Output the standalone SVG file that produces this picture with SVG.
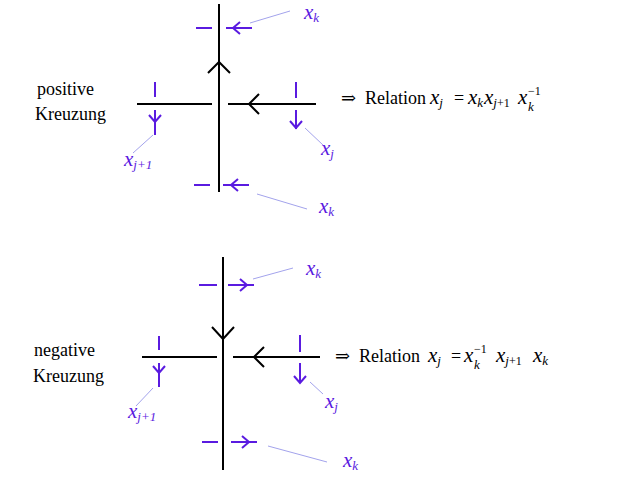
<svg xmlns="http://www.w3.org/2000/svg" width="639" height="486" viewBox="0 0 639 486">
<style>
.k{stroke:#000;stroke-width:2;fill:none}
.p{stroke:#5a1be0;stroke-width:2;fill:none}
.l{stroke:#a3a3ec;stroke-width:1;fill:none}
text{font-family:"Liberation Serif","DejaVu Serif","Times New Roman",serif}
.t{font-size:18px;fill:#000}
.m{font-style:italic;font-size:21px;fill:#5a1be0}
.mb{font-style:italic;font-size:21px;fill:#000}
.s{font-size:13px}
.u{font-style:normal;font-size:12px}
</style>
<rect width="639" height="486" fill="#fff"/>

<g id="positive-crossing">
  <line class="k" x1="219" y1="4" x2="219" y2="192"/>
  <polyline class="k" points="208,73 219,62 230,73"/>
  <line class="k" x1="137" y1="104" x2="212" y2="104"/>
  <line class="k" x1="228" y1="104" x2="316" y2="104"/>
  <polyline class="k" points="259,94 249,104 259,114"/>
</g>
<g id="positive-labels">
  <line class="p" x1="196" y1="28" x2="212" y2="28"/>
  <line class="p" x1="226" y1="28" x2="252" y2="28"/>
  <polyline class="p" points="240,22 233,28 240,34"/>
  <line class="p" x1="155" y1="82" x2="155" y2="97"/>
  <line class="p" x1="155" y1="110" x2="155" y2="135"/>
  <polyline class="p" points="149,115 155,122 161,115"/>
  <line class="p" x1="296" y1="82" x2="296" y2="98"/>
  <line class="p" x1="296" y1="110" x2="296" y2="129"/>
  <polyline class="p" points="290,121 296,128 302,121"/>
  <line class="p" x1="194" y1="185" x2="210" y2="185"/>
  <line class="p" x1="223" y1="185" x2="249" y2="185"/>
  <polyline class="p" points="238,179 231,185 238,191"/>
  <text class="m" x="304" y="19" font-size="20">x<tspan class="s" dy="3">k</tspan></text>
  <text class="m" x="124" y="166">x<tspan class="s" dy="3">j+1</tspan></text>
  <text class="m" x="321" y="155">x<tspan class="s" dy="3">j</tspan></text>
  <text class="m" x="319" y="213">x<tspan class="s" dy="3">k</tspan></text>
  <text class="t" x="37" y="95">positive</text>
  <text class="t" x="35" y="120">Kreuzung</text>
  <text class="t" x="341" y="104">⇒</text>
  <text class="t" x="365" y="104">Relation</text>
  <text class="mb" x="430" y="104">x<tspan class="s" dy="3">j</tspan></text>
  <text class="t" x="454" y="104">=</text>
  <text class="mb" x="468" y="104">x<tspan class="s" dy="3">k</tspan></text>
  <text class="mb" x="484" y="104">x<tspan class="s" dy="3">j</tspan><tspan class="u">+1</tspan></text>
  <text class="mb" x="518" y="104">x</text>
  <text class="u" x="528" y="95">−1</text>
  <text class="mb s" x="528" y="111">k</text>
</g>
<g id="negative-crossing">
  <line class="k" x1="223" y1="257" x2="223" y2="470"/>
  <polyline class="k" points="212,327 223,339 234,327"/>
  <line class="k" x1="142" y1="357" x2="217" y2="357"/>
  <line class="k" x1="233" y1="357" x2="320" y2="357"/>
  <polyline class="k" points="264,347 254,357 264,367"/>
</g>
<g id="negative-labels">
  <line class="p" x1="199" y1="285" x2="217" y2="285"/>
  <line class="p" x1="228" y1="285" x2="254" y2="285"/>
  <polyline class="p" points="240,279 247,285 240,291"/>
  <line class="p" x1="159" y1="336" x2="159" y2="350"/>
  <line class="p" x1="159" y1="363" x2="159" y2="387"/>
  <polyline class="p" points="153,366 159,373 165,366"/>
  <line class="p" x1="300" y1="335" x2="300" y2="352"/>
  <line class="p" x1="300" y1="363" x2="300" y2="383"/>
  <polyline class="p" points="294,376 300,383 306,376"/>
  <line class="p" x1="202" y1="442" x2="218" y2="442"/>
  <line class="p" x1="231" y1="442" x2="257" y2="442"/>
  <polyline class="p" points="242,436 249,442 242,448"/>
  <text class="m" x="306" y="275">x<tspan class="s" dy="3">k</tspan></text>
  <text class="m" x="128" y="418">x<tspan class="s" dy="3">j+1</tspan></text>
  <text class="m" x="325" y="408">x<tspan class="s" dy="3">j</tspan></text>
  <text class="m" x="343" y="467">x<tspan class="s" dy="3">k</tspan></text>
  <text class="t" x="34" y="356">negative</text>
  <text class="t" x="33" y="382">Kreuzung</text>
  <text class="t" x="335" y="362">⇒</text>
  <text class="t" x="359" y="362">Relation</text>
  <text class="mb" x="428" y="362">x<tspan class="s" dy="3">j</tspan></text>
  <text class="t" x="451" y="362">=</text>
  <text class="mb" x="464" y="362">x</text>
  <text class="u" x="474" y="353">−1</text>
  <text class="mb s" x="474" y="369">k</text>
  <text class="mb" x="496" y="362">x<tspan class="s" dy="3">j</tspan><tspan class="u">+1</tspan></text>
  <text class="mb" x="533" y="362">x<tspan class="s" dy="3">k</tspan></text>
</g>
<g id="connectors">
  <line class="l" x1="250" y1="23" x2="290" y2="11"/>
  <line class="l" x1="153" y1="135" x2="133" y2="153"/>
  <line class="l" x1="305" y1="128" x2="323" y2="145"/>
  <line class="l" x1="257" y1="194" x2="307" y2="209"/>
  <line class="l" x1="253" y1="279" x2="293" y2="268"/>
  <line class="l" x1="153" y1="388" x2="136" y2="406"/>
  <line class="l" x1="310" y1="382" x2="323" y2="394"/>
  <line class="l" x1="268" y1="446" x2="327" y2="462"/>
</g>
</svg>
